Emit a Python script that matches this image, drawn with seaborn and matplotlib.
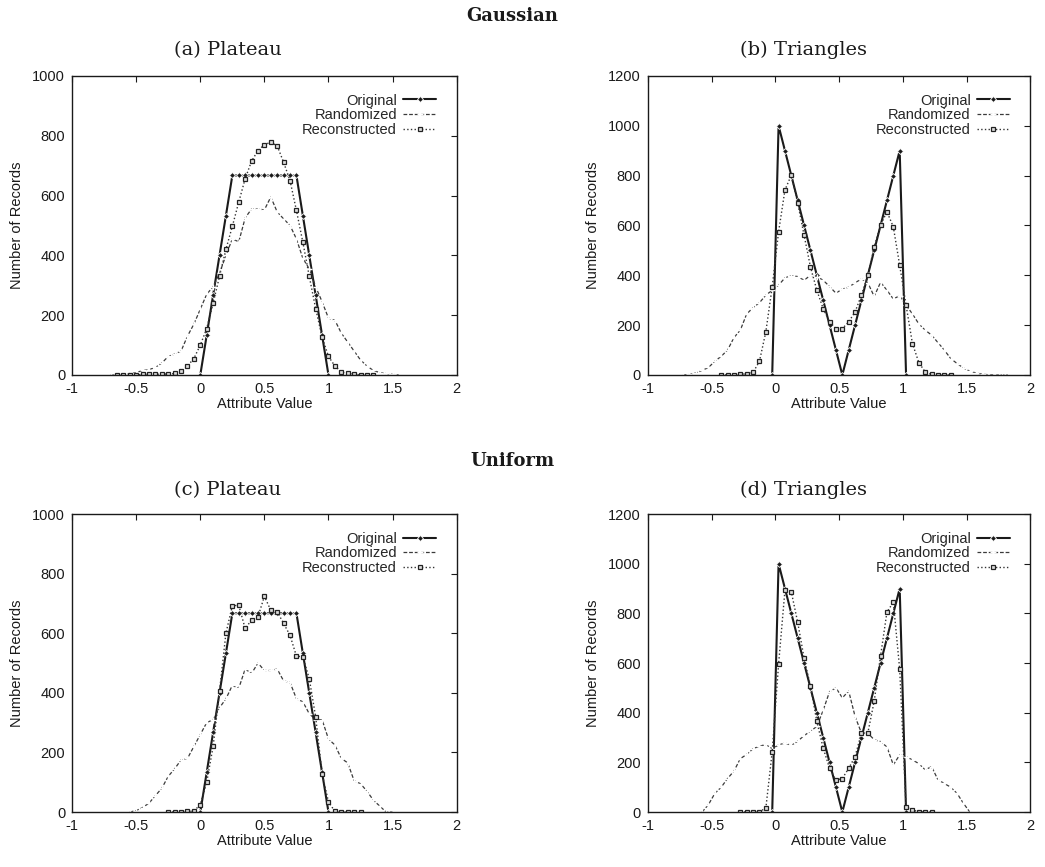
import numpy as np
import seaborn as sns
import matplotlib
matplotlib.use("Agg")
import matplotlib.pyplot as plt

# bin centres (x positions) of the histograms
def bins(start, n):
    return np.round(start + 0.05 * np.arange(n), 3)

# ---- (a) Gaussian / Plateau ----
orig_a_x = bins(0.0, 21)
orig_a = [0, 133, 267, 400, 533, 667, 667, 667, 667, 667, 667, 667, 667, 667, 667, 667,
          533, 400, 267, 133, 0]
rand_a_x = bins(-0.7, 46)
rand_a = [0, 0, 2, 5, 8, 15, 18, 25, 40, 62, 70, 80, 130, 170, 220, 270, 295, 340, 400,
          455, 445, 525, 555, 555, 552, 595, 545, 522, 500, 455, 390, 355, 295, 245, 190,
          183, 140, 110, 80, 50, 30, 15, 8, 5, 2, 0]
recon_a_x = bins(-0.65, 41)
recon_a = [0, 0, 0, 0, 2, 2, 2, 3, 3, 5, 12, 30, 55, 100, 155, 240, 330, 420, 497, 578,
           656, 715, 750, 770, 778, 766, 711, 650, 550, 444, 330, 222, 127, 62, 30, 10,
           5, 3, 0, 0, 0]

# ---- (b) Gaussian / Triangles ----
orig_b_x = bins(-0.025, 22)
orig_b = [0, 1000, 900, 800, 700, 600, 500, 400, 300, 200, 100, 0, 100, 200, 300, 400,
          500, 600, 700, 800, 900, 0]
rand_b_x = bins(-0.725, 52)
rand_b = [0, 2, 8, 18, 30, 55, 75, 100, 150, 180, 245, 270, 290, 320, 340, 360, 390, 398,
          395, 380, 400, 395, 380, 355, 328, 345, 352, 370, 385, 370, 315, 372, 340, 305,
          318, 280, 245, 205, 180, 160, 130, 100, 66, 46, 28, 15, 8, 3, 1, 0, 0, 0]
recon_b_x = bins(-0.425, 37)
recon_b = [0, 0, 0, 2, 5, 10, 55, 173, 353, 574, 742, 802, 690, 561, 434, 340, 266, 213,
           186, 186, 213, 253, 320, 400, 514, 601, 655, 594, 440, 280, 126, 50, 12, 2,
           0, 0, 0]

# ---- (c) Uniform / Plateau ----
orig_c_x = bins(0.0, 21)
orig_c = [0, 133, 267, 400, 533, 667, 667, 667, 667, 667, 667, 667, 667, 667, 667, 667,
          533, 400, 267, 133, 0]
rand_c_x = bins(-0.55, 42)
rand_c = [0, 5, 15, 30, 55, 80, 120, 145, 175, 180, 220, 260, 300, 310, 350, 380, 425,
          415, 480, 465, 500, 475, 475, 480, 440, 435, 380, 370, 330, 310, 310, 245, 225,
          180, 165, 105, 95, 70, 40, 20, 0, 0]
recon_c_x = bins(-0.25, 31)
recon_c = [0, 0, 0, 2, 3, 25, 100, 220, 405, 600, 692, 694, 616, 644, 655, 724, 677, 672,
           633, 593, 523, 521, 448, 319, 129, 34, 2, 0, 0, 0, 0]

# ---- (d) Uniform / Triangles ----
orig_d_x = bins(-0.025, 22)
orig_d = [0, 1000, 900, 800, 700, 600, 500, 400, 300, 200, 100, 0, 100, 200, 300, 400,
          500, 600, 700, 800, 900, 0]
rand_d_x = bins(-0.575, 43)
rand_d = [0, 30, 75, 100, 135, 165, 215, 232, 255, 265, 272, 255, 270, 278, 268, 285, 308,
          325, 345, 410, 485, 500, 460, 487, 385, 318, 318, 291, 284, 262, 190, 230, 223,
          210, 195, 170, 183, 130, 115, 100, 75, 35, 0]
recon_d_x = bins(-0.275, 31)
recon_d = [0, 0, 0, 2, 15, 243, 595, 893, 886, 764, 620, 507, 365, 257, 176, 128, 135, 176,
           223, 318, 318, 446, 629, 805, 845, 575, 20, 9, 0, 0, 0]

panels = [
    ("(a) Plateau", (orig_a_x, orig_a), (rand_a_x, rand_a), (recon_a_x, recon_a), 1000),
    ("(b) Triangles", (orig_b_x, orig_b), (rand_b_x, rand_b), (recon_b_x, recon_b), 1200),
    ("(c) Plateau", (orig_c_x, orig_c), (rand_c_x, rand_c), (recon_c_x, recon_c), 1000),
    ("(d) Triangles", (orig_d_x, orig_d), (rand_d_x, rand_d), (recon_d_x, recon_d), 1200),
]

sns.set_theme(style="white")
plt.rcParams['font.family'] = ['Liberation Sans', 'DejaVu Sans']

fig = plt.figure(figsize=(10.45, 8.67), dpi=100)
rects = [
    [0.069, 0.5675, 0.368, 0.345],
    [0.620, 0.5675, 0.366, 0.345],
    [0.069, 0.0634, 0.368, 0.3437],
    [0.620, 0.0634, 0.366, 0.3437],
]
title_x = [0.218, 0.769, 0.218, 0.769]
title_y = [0.942, 0.942, 0.435, 0.435]

ink = '#1a1a1a'
for i, (ttl, orig, rand, recon, ymax) in enumerate(panels):
    ax = fig.add_axes(rects[i])
    sns.lineplot(x=orig[0], y=orig[1], ax=ax, color=ink, lw=1.5, marker='D',
                 markersize=3, markeredgewidth=0.6, label='Original', estimator=None)
    sns.lineplot(x=rand[0], y=rand[1], ax=ax, color='#3a3a3a', lw=0.9, marker='+',
                 markersize=4.5, markeredgewidth=1.0, linestyle=(0, (3, 1.5)),
                 label='Randomized', estimator=None)
    sns.lineplot(x=recon[0], y=recon[1], ax=ax, color='#333333', lw=1.0, marker='s',
                 markersize=3.2, markerfacecolor='#dddddd', markeredgecolor='#222222',
                 markeredgewidth=0.9, linestyle=':', label='Reconstructed', estimator=None)
    ax.set_xlim(-1, 2)
    ax.set_ylim(0, ymax)
    ax.set_xticks([-1, -0.5, 0, 0.5, 1, 1.5, 2])
    ax.set_xticklabels(['-1', '-0.5', '0', '0.5', '1', '1.5', '2'])
    ax.set_yticks(np.arange(0, ymax + 1, 200))
    ax.tick_params(direction='in', top=True, right=True, length=4, width=0.8,
                   labelsize=10.5, colors=ink, pad=5)
    for s in ax.spines.values():
        s.set_color(ink)
        s.set_linewidth(1.0)
    ax.set_xlabel('Attribute Value', fontsize=10.5, color=ink, labelpad=1)
    ax.set_ylabel('Number of Records', fontsize=10.5, color=ink, labelpad=6)
    ax.legend(loc='upper right', bbox_to_anchor=(0.97, 0.97), frameon=False,
              markerfirst=False, fontsize=10.5, handlelength=2.3, labelspacing=0.05,
              handletextpad=0.4, borderaxespad=0.2)
    fig.text(title_x[i], title_y[i], ttl, ha='center', va='center', fontsize=14,
             family='DejaVu Serif', color=ink)

fig.text(0.49, 0.982, 'Gaussian', ha='center', va='center', fontsize=13,
         family='DejaVu Serif', fontweight='bold', color=ink)
fig.text(0.49, 0.468, 'Uniform', ha='center', va='center', fontsize=13,
         family='DejaVu Serif', fontweight='bold', color=ink)

fig.savefig('out.png', dpi=100)
